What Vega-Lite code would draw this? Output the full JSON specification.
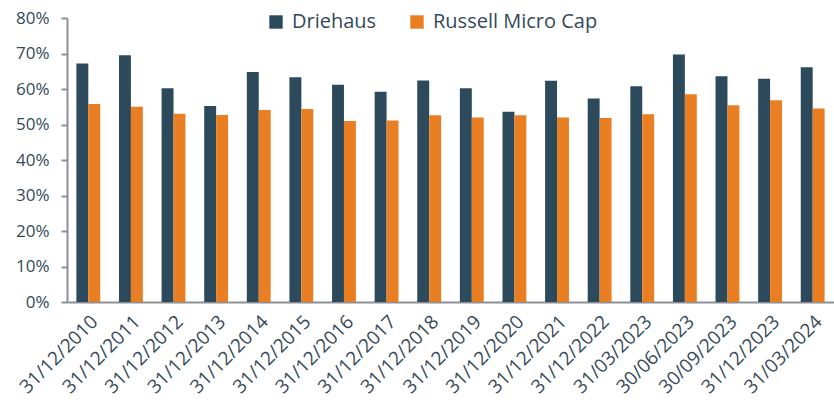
{
  "$schema": "https://vega.github.io/schema/vega-lite/v6.json",
  "autosize": {"type": "none"},
  "width": 767,
  "height": 284,
  "padding": {"left": 67, "top": 18, "right": 0, "bottom": 100},
  "background": "white",
  "config": {
    "view": {"stroke": null},
    "font": "Open Sans"
  },
  "data": {
    "values": [
      {"date": "31/12/2010", "series": "Driehaus", "value": 0.672},
      {"date": "31/12/2010", "series": "Russell Micro Cap", "value": 0.558},
      {"date": "31/12/2011", "series": "Driehaus", "value": 0.695},
      {"date": "31/12/2011", "series": "Russell Micro Cap", "value": 0.550},
      {"date": "31/12/2012", "series": "Driehaus", "value": 0.602},
      {"date": "31/12/2012", "series": "Russell Micro Cap", "value": 0.530},
      {"date": "31/12/2013", "series": "Driehaus", "value": 0.552},
      {"date": "31/12/2013", "series": "Russell Micro Cap", "value": 0.527},
      {"date": "31/12/2014", "series": "Driehaus", "value": 0.648},
      {"date": "31/12/2014", "series": "Russell Micro Cap", "value": 0.541},
      {"date": "31/12/2015", "series": "Driehaus", "value": 0.633},
      {"date": "31/12/2015", "series": "Russell Micro Cap", "value": 0.544},
      {"date": "31/12/2016", "series": "Driehaus", "value": 0.612},
      {"date": "31/12/2016", "series": "Russell Micro Cap", "value": 0.510},
      {"date": "31/12/2017", "series": "Driehaus", "value": 0.592},
      {"date": "31/12/2017", "series": "Russell Micro Cap", "value": 0.511},
      {"date": "31/12/2018", "series": "Driehaus", "value": 0.624},
      {"date": "31/12/2018", "series": "Russell Micro Cap", "value": 0.526},
      {"date": "31/12/2019", "series": "Driehaus", "value": 0.602},
      {"date": "31/12/2019", "series": "Russell Micro Cap", "value": 0.520},
      {"date": "31/12/2020", "series": "Driehaus", "value": 0.536},
      {"date": "31/12/2020", "series": "Russell Micro Cap", "value": 0.526},
      {"date": "31/12/2021", "series": "Driehaus", "value": 0.623},
      {"date": "31/12/2021", "series": "Russell Micro Cap", "value": 0.520},
      {"date": "31/12/2022", "series": "Driehaus", "value": 0.573},
      {"date": "31/12/2022", "series": "Russell Micro Cap", "value": 0.518},
      {"date": "31/03/2023", "series": "Driehaus", "value": 0.608},
      {"date": "31/03/2023", "series": "Russell Micro Cap", "value": 0.529},
      {"date": "30/06/2023", "series": "Driehaus", "value": 0.697},
      {"date": "30/06/2023", "series": "Russell Micro Cap", "value": 0.585},
      {"date": "30/09/2023", "series": "Driehaus", "value": 0.636},
      {"date": "30/09/2023", "series": "Russell Micro Cap", "value": 0.554},
      {"date": "31/12/2023", "series": "Driehaus", "value": 0.629},
      {"date": "31/12/2023", "series": "Russell Micro Cap", "value": 0.568},
      {"date": "31/03/2024", "series": "Driehaus", "value": 0.661},
      {"date": "31/03/2024", "series": "Russell Micro Cap", "value": 0.545}
    ]
  },
  "mark": {"type": "bar"},
  "encoding": {
    "x": {
      "field": "date",
      "type": "nominal",
      "sort": null,
      "title": null,
      "scale": {"paddingInner": 0.44, "paddingOuter": 0.22},
      "axis": {
        "labelAngle": -45,
        "labelFontSize": 19,
        "labelColor": "#34495a",
        "labelPadding": 10,
        "labelOverlap": false,
        "ticks": false,
        "domainColor": "#8c9095",
        "domainWidth": 2
      }
    },
    "xOffset": {"field": "series", "sort": ["Driehaus", "Russell Micro Cap"]},
    "y": {
      "field": "value",
      "type": "quantitative",
      "title": null,
      "scale": {"domain": [0, 0.8]},
      "axis": {
        "values": [0, 0.1, 0.2, 0.3, 0.4, 0.5, 0.6, 0.7, 0.8],
        "format": ".0%",
        "grid": false,
        "labelFontSize": 17,
        "labelColor": "#34495a",
        "labelPadding": 12,
        "tickSize": 6,
        "tickColor": "#8c9095",
        "tickWidth": 2,
        "domainColor": "#8c9095",
        "domainWidth": 2
      }
    },
    "color": {
      "field": "series",
      "type": "nominal",
      "sort": ["Driehaus", "Russell Micro Cap"],
      "scale": {"domain": ["Driehaus", "Russell Micro Cap"], "range": ["#2d4a5c", "#e97f22"]},
      "legend": {
        "title": null,
        "orient": "none",
        "direction": "horizontal",
        "legendX": 199,
        "legendY": -6,
        "symbolType": "square",
        "symbolSize": 180,
        "symbolStrokeWidth": 0,
        "labelFontSize": 20,
        "labelColor": "#34495a",
        "labelLimit": 400,
        "labelOffset": 6,
        "columnPadding": 30
      }
    }
  }
}
